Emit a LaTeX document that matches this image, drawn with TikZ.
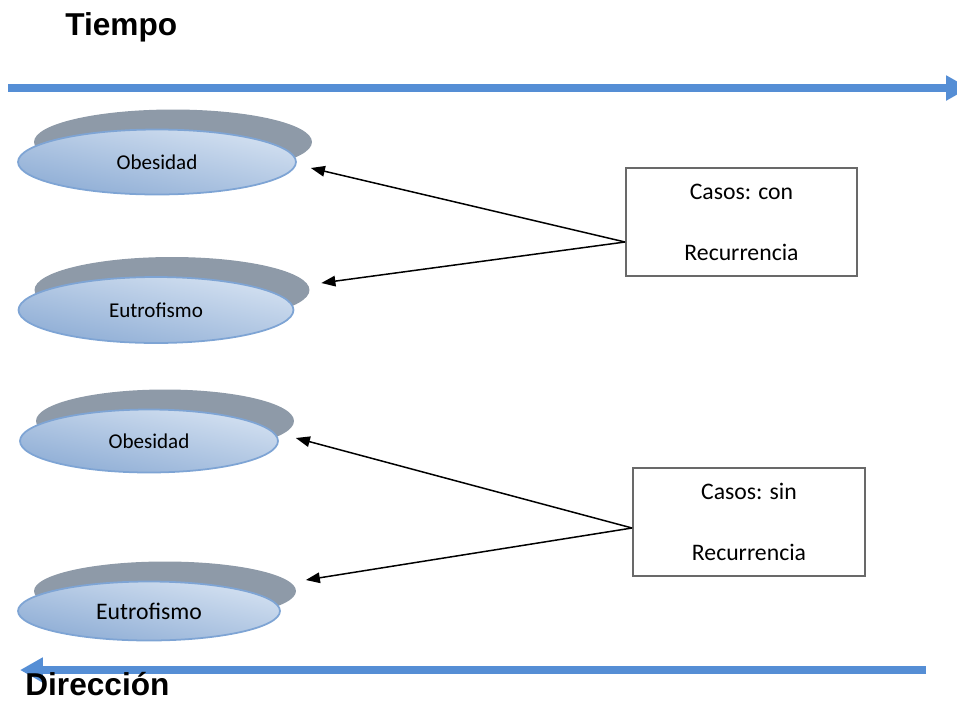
\documentclass[tikz,border=0pt]{standalone}
\usepackage{fontspec}
\setmainfont{Carlito}
\newfontfamily\titlefont{Liberation Sans}
\usepackage{xcolor}
\usetikzlibrary{shapes.geometric,arrows.meta,positioning,shadows}
\definecolor{ejecolor}{RGB}{85,142,213}
\definecolor{sombra}{RGB}{142,154,168}
\definecolor{elllight}{RGB}{212,225,241}
\definecolor{elldark}{RGB}{142,173,213}
\definecolor{ellborde}{RGB}{126,164,212}
\definecolor{bordecaja}{RGB}{105,105,105}

\begin{document}
\begin{tikzpicture}[
    x=0.02cm, y=-0.02cm,
    estado/.style={ellipse, draw=ellborde, line width=1pt, inner sep=0pt,
        top color=elllight, bottom color=elldark, shading angle=-12,
        general shadow={fill=sombra, shadow xshift=0.32cm, shadow yshift=0.4cm}},
    casos/.style={draw=bordecaja, line width=1.1pt, align=center, inner sep=0pt,
        minimum height=2.16cm, font=\fontsize{13.5}{34.7}\selectfont},
    arrow/.style={-{Triangle[length=8pt,width=6pt]}, line width=0.85pt},
    eje/.style={-{Triangle[length=13pt,width=13.5pt]}, line width=4pt, ejecolor},
    titulo/.style={anchor=base west, inner sep=0pt, font=\titlefont\fontsize{18}{20}\selectfont\bfseries}
]
    \clip (0,0) rectangle (957,704);

    % ejes
    \node[titulo] (tiempo) at (65,35) {Tiempo};
    \coordinate (t0) at (8,88);
    \coordinate (t1) at (969,88);
    \draw[eje] (t0) -- (t1);
    \coordinate (d0) at (926,670);
    \coordinate (d1) at (20,670);
    \draw[eje] (d0) -- (d1);
    \node[titulo] (direccion) at (25,695) {Dirección};

    % con recurrencia
    \node[estado, minimum width=5.56cm, minimum height=1.30cm, font=\fontsize{12}{14}\selectfont] (obesA) at (157,162) {Obesidad};
    \node[estado, minimum width=5.50cm, minimum height=1.32cm, font=\fontsize{12}{14}\selectfont] (eutroA) at (156,310) {Eutrofismo};
    \node[casos, minimum width=4.62cm] (conrec) at (741.5,222) {Casos: con\\Recurrencia};

    % sin recurrencia
    \node[estado, minimum width=5.16cm, minimum height=1.26cm, font=\fontsize{12}{14}\selectfont] (obesB) at (149,441) {Obesidad};
    \node[estado, minimum width=5.24cm, minimum height=1.18cm, font=\fontsize{13.5}{16}\selectfont] (eutroB) at (149,611) {Eutrofismo};
    \node[casos, minimum width=4.64cm] (sinrec) at (749,522) {Casos: sin\\Recurrencia};

    \draw[arrow] ([yshift=-0.4cm]conrec.west) -- ([shift={(14,6)}]obesA.east);
    \draw[arrow] ([yshift=-0.4cm]conrec.west) -- ([shift={(27,-27)}]eutroA.east);
    \draw[arrow] ([yshift=-0.12cm]sinrec.west) -- ([shift={(17,-3)}]obesB.east);
    \draw[arrow] ([yshift=-0.12cm]sinrec.west) -- ([shift={(25,-31)}]eutroB.east);
\end{tikzpicture}
\end{document}
